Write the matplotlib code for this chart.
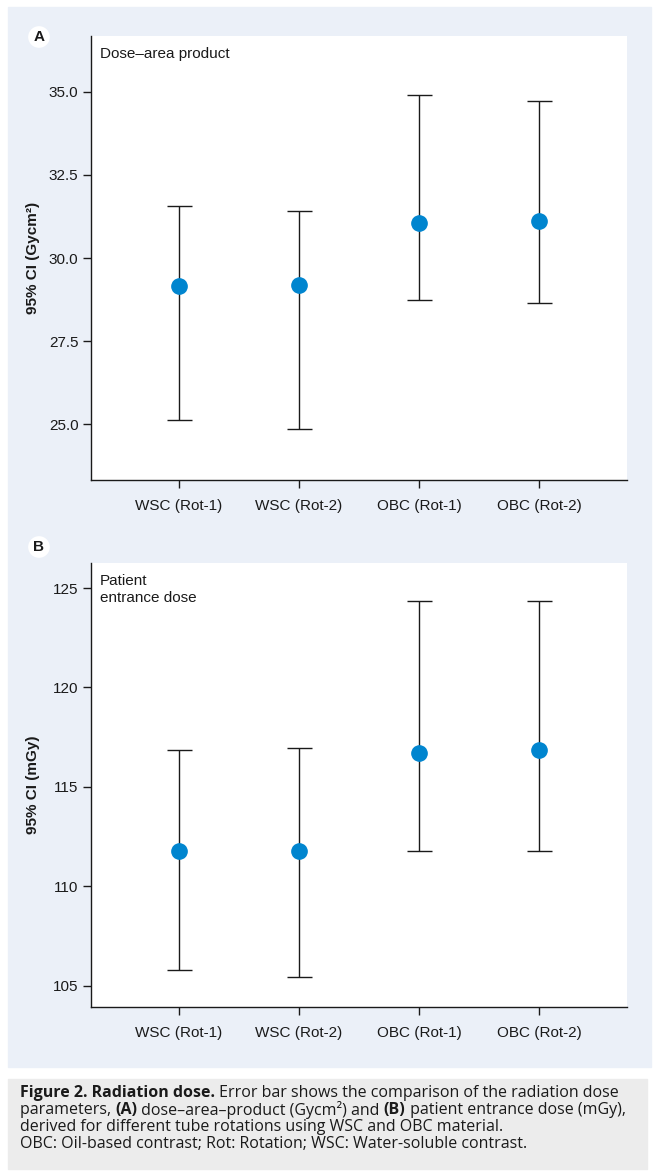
import matplotlib
matplotlib.use("Agg")
import matplotlib.pyplot as plt
from matplotlib.patches import Rectangle

plt.rcParams['font.family'] = ['Liberation Sans', 'DejaVu Sans']

# categories shared by both panels
groups = ['WSC (Rot-1)', 'WSC (Rot-2)', 'OBC (Rot-1)', 'OBC (Rot-2)']

# panel A: dose-area product (Gycm2), mean with 95% CI
dap_mean = [29.15, 29.18, 31.06, 31.12]
dap_low = [25.12, 24.85, 28.73, 28.64]
dap_high = [31.56, 31.42, 34.90, 34.72]
dap_ticks = [25.0, 27.5, 30.0, 32.5, 35.0]

# panel B: patient entrance dose (mGy)
ped_mean = [111.78, 111.78, 116.71, 116.84]
ped_low = [105.79, 105.44, 111.77, 111.77]
ped_high = [116.86, 116.96, 124.33, 124.33]
ped_ticks = [105, 110, 115, 120, 125]

W, H = 653, 1173
fig = plt.figure(figsize=(W / 100, H / 100), dpi=100)
fig.patch.set_facecolor('white')

BLUE_BG = '#ebf0f8'
DOT = '#0085cf'
INK = '#1a1a1a'

def px(x0, y0, x1, y1):
    # pixel box (top-left origin) -> figure fraction rect
    return [x0 / W, 1 - y1 / H, (x1 - x0) / W, (y1 - y0) / H]

fig.patches.append(Rectangle((8 / W, 1 - 1067 / H), 643 / W, 1060 / H,
                             transform=fig.transFigure, color=BLUE_BG, zorder=-10))
fig.patches.append(Rectangle((8 / W, 1 - 1169 / H), 639 / W, 90 / H,
                             transform=fig.transFigure, color='#ececec', zorder=-10))


def panel(rect, mean, low, high, ticks, ylim, fmt, ylabel, note, letter, letter_y):
    ax = fig.add_axes(rect)
    ax.set_facecolor('white')
    x = list(range(1, len(groups) + 1))
    err = [[m - l for m, l in zip(mean, low)], [h - m for m, h in zip(mean, high)]]
    ax.errorbar(x, mean, yerr=err, fmt='none', ecolor=INK, elinewidth=1.0,
                capsize=9, capthick=1.0, zorder=2)
    ax.plot(x, mean, 'o', color=DOT, markersize=11, zorder=3)
    ax.set_xlim(0.267, 4.733)
    ax.set_ylim(*ylim)
    ax.set_xticks(x)
    ax.set_xticklabels(groups)
    ax.set_yticks(ticks)
    ax.set_yticklabels([fmt.format(t) for t in ticks])
    for s in ['top', 'right']:
        ax.spines[s].set_visible(False)
    for s in ['left', 'bottom']:
        ax.spines[s].set_color(INK)
        ax.spines[s].set_linewidth(1.0)
    ax.tick_params(axis='both', colors=INK, length=6, width=1.0, labelsize=11,
                   pad=3)
    ax.tick_params(axis='x', pad=8)
    ax.set_ylabel(ylabel, fontsize=11, fontweight='bold', color=INK)
    ax.yaxis.set_label_coords(-51 / 536, 0.5)
    ax.text(9 / 536, 1 - 11 / 444, note, transform=ax.transAxes, ha='left', va='top',
            fontsize=11, color=INK, linespacing=1.3)
    fig.text(39 / W, 1 - letter_y / H, letter, ha='center', va='center',
             fontsize=11, fontweight='bold', color=INK,
             bbox=dict(boxstyle='circle,pad=0.25', fc='white', ec='none'))
    return ax


panel(px(91, 36, 627, 480), dap_mean, dap_low, dap_high, dap_ticks,
      (23.32, 36.68), '{:.1f}', '95% CI (Gycm\u00b2)',
      'Dose\u2013area product', 'A', 37)
panel(px(91, 563, 627, 1007), ped_mean, ped_low, ped_high, ped_ticks,
      (103.93, 126.26), '{:.0f}', '95% CI (mGy)',
      'Patient\nentrance dose', 'B', 547)

# caption with mixed bold / regular runs
caption = [
    [('Figure 2. Radiation dose.', 'bold'),
     (' Error bar shows the comparison of the radiation dose', 'normal')],
    [('parameters, ', 'normal'), ('(A)', 'bold'),
     (' dose\u2013area\u2013product (Gycm\u00b2) and ', 'normal'), ('(B)', 'bold'),
     (' patient entrance dose (mGy),', 'normal')],
    [('derived for different tube rotations using WSC and OBC material.', 'normal')],
    [('OBC: Oil-based contrast; Rot: Rotation; WSC: Water-soluble contrast.', 'normal')],
]
cap_font = ['Open Sans', 'DejaVu Sans']
cap_size = 11.5
line_y = [1093, 1110, 1127, 1144]

fig.canvas.draw()
renderer = fig.canvas.get_renderer()
for runs, yy in zip(caption, line_y):
    xx = 20
    for txt, wt in runs:
        t = fig.text(xx / W, 1 - yy / H, txt, ha='left', va='center',
                     fontsize=cap_size, fontweight=wt, family=cap_font, color=INK)
        bb = t.get_window_extent(renderer=renderer)
        xx += bb.width

fig.savefig('out.png', dpi=100, facecolor=fig.get_facecolor())
